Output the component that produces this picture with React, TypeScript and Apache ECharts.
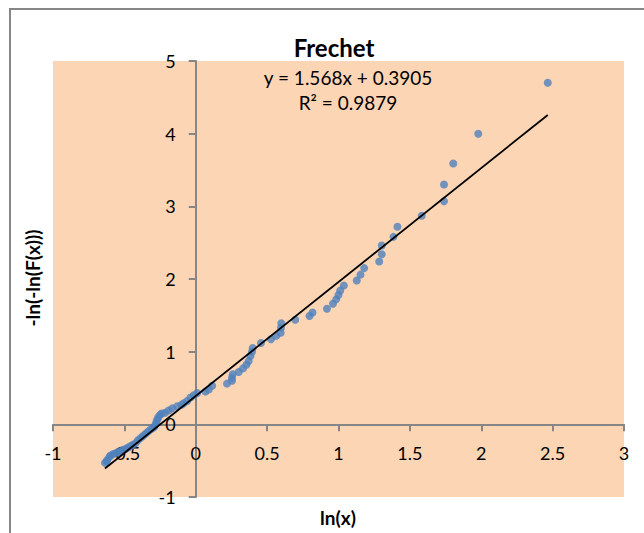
import React, { useEffect, useRef } from "react";
import * as echarts from "echarts";

const TITLE = "Frechet";
const X_TITLE = "ln(x)";
const Y_TITLE = "-ln(-ln(F(x)))";
const EQUATION = "y = 1.568x + 0.3905";
const R2_TEXT = "R\u00b2 = 0.9879";
const TREND_SLOPE = 1.568;
const TREND_INTERCEPT = 0.3905;

const X_VALUES = [
  -0.636, -0.625, -0.62, -0.605, -0.597, -0.58, -0.562, -0.545, -0.527, -0.51, -0.492,
  -0.475, -0.457, -0.44, -0.422, -0.405, -0.387, -0.37, -0.352, -0.335, -0.317, -0.3,
  -0.29, -0.28, -0.275, -0.268, -0.262, -0.25, -0.24, -0.215, -0.19, -0.165, -0.13,
  -0.1, -0.084, -0.06, -0.037, -0.014, 0.01, 0.068, 0.091, 0.115, 0.219, 0.254, 0.254,
  0.259, 0.301, 0.331, 0.355, 0.371, 0.383, 0.394, 0.399, 0.457, 0.527, 0.564, 0.595,
  0.597, 0.599, 0.697, 0.797, 0.818, 0.919, 0.961, 0.984, 1.0, 1.012, 1.037, 1.128,
  1.154, 1.18, 1.285, 1.303, 1.303, 1.385, 1.413, 1.583, 1.739, 1.739, 1.804, 1.979,
  2.466,
];
const Y_VALUES = [
  -0.53, -0.51, -0.49, -0.45, -0.43, -0.41, -0.4, -0.38, -0.37, -0.35, -0.34,
  -0.32, -0.3, -0.28, -0.26, -0.22, -0.19, -0.16, -0.13, -0.1, -0.07, -0.05,
  -0.03, 0.0, 0.04, 0.07, 0.1, 0.13, 0.15, 0.16, 0.19, 0.22, 0.25,
  0.27, 0.29, 0.32, 0.37, 0.4, 0.43, 0.45, 0.48, 0.53, 0.56, 0.6, 0.64,
  0.69, 0.72, 0.77, 0.82, 0.87, 0.94, 1.0, 1.05, 1.12, 1.17, 1.22, 1.26,
  1.33, 1.39, 1.44, 1.49, 1.54, 1.59, 1.66, 1.72, 1.78, 1.84, 1.91, 1.98,
  2.06, 2.15, 2.24, 2.34, 2.46, 2.58, 2.72, 2.87, 3.07, 3.3, 3.59, 4.0,
  4.7,
];

const X_MIN = -1;
const X_MAX = 3;
const X_STEP = 0.5;
const Y_MIN = -1;
const Y_MAX = 5;
const Y_STEP = 1;

const FONT = "Lato, 'DejaVu Sans', sans-serif";
const AXIS_COLOR = "#868686";

const W = 644;
const H = 533;
const G_LEFT = 53;
const G_RIGHT = 20;
const G_TOP = 61;
const G_BOTTOM = 36;

export default function App() {
  const ref = useRef<HTMLDivElement>(null);

  useEffect(() => {
    if (!ref.current) return;
    const chart = echarts.init(ref.current, undefined, { renderer: "svg" });
    const points = X_VALUES.map((x, i) => [x, Y_VALUES[i]]);
    const xLo = Math.min(...X_VALUES);
    const xHi = Math.max(...X_VALUES);
    const trend = [
      [xLo, TREND_SLOPE * xLo + TREND_INTERCEPT],
      [xHi, TREND_SLOPE * xHi + TREND_INTERCEPT],
    ];

    const gw = W - G_LEFT - G_RIGHT;
    const gh = H - G_TOP - G_BOTTOM;
    // shift axes so they cross at zero (labels move with them)
    const yAxisOffset = -((0 - X_MIN) / (X_MAX - X_MIN)) * gw;
    const xAxisOffset = -((0 - Y_MIN) / (Y_MAX - Y_MIN)) * gh;

    chart.setOption({
      animation: false,
      backgroundColor: "#ffffff",
      textStyle: { fontFamily: FONT },
      grid: {
        left: G_LEFT,
        right: G_RIGHT,
        top: G_TOP,
        bottom: G_BOTTOM,
        show: true,
        backgroundColor: "#FCD5B5",
        borderWidth: 0,
        containLabel: false,
      },
      xAxis: {
        type: "value",
        position: "bottom",
        offset: xAxisOffset,
        min: X_MIN,
        max: X_MAX,
        interval: X_STEP,
        axisLine: { show: true, onZero: false, lineStyle: { color: AXIS_COLOR, width: 2 } },
        axisTick: { show: true, length: 7, lineStyle: { color: AXIS_COLOR, width: 2 } },
        axisLabel: { color: "#000", fontSize: 18, fontFamily: FONT, margin: 20 },
        splitLine: { show: false },
      },
      yAxis: {
        type: "value",
        position: "left",
        offset: yAxisOffset,
        min: Y_MIN,
        max: Y_MAX,
        interval: Y_STEP,
        axisLine: { show: true, onZero: false, lineStyle: { color: AXIS_COLOR, width: 2 } },
        axisTick: { show: true, length: 7, lineStyle: { color: AXIS_COLOR, width: 2 } },
        axisLabel: { color: "#000", fontSize: 18, fontFamily: FONT, margin: 20 },
        splitLine: { show: false },
      },
      series: [
        {
          type: "scatter",
          data: points,
          symbol: "circle",
          symbolSize: 8,
          itemStyle: { color: "#4F81BD" },
          z: 3,
        },
        {
          type: "line",
          data: trend,
          symbol: "none",
          lineStyle: { color: "#000000", width: 1.8 },
          z: 4,
        },
      ],
      graphic: [
        {
          type: "rect",
          shape: { x: 10, y: 9, width: 700, height: 600 },
          style: { fill: "none", stroke: AXIS_COLOR, lineWidth: 2 },
          silent: true,
          z: 100,
        },
        {
          type: "text",
          x: 334,
          y: 47,
          style: {
            text: TITLE,
            font: `bold 24px ${FONT}`,
            fill: "#000",
            align: "center",
            verticalAlign: "middle",
            textAlign: "center",
            textVerticalAlign: "middle",
          },
        },
        {
          type: "text",
          x: 348,
          y: 77,
          style: {
            text: EQUATION,
            font: `19px ${FONT}`,
            fill: "#000",
            align: "center",
            verticalAlign: "middle",
            textAlign: "center",
            textVerticalAlign: "middle",
          },
          z: 10,
        },
        {
          type: "text",
          x: 348,
          y: 102,
          style: {
            text: R2_TEXT,
            font: `19px ${FONT}`,
            fill: "#000",
            align: "center",
            verticalAlign: "middle",
            textAlign: "center",
            textVerticalAlign: "middle",
          },
          z: 10,
        },
        {
          type: "text",
          x: 338,
          y: 517,
          style: {
            text: X_TITLE,
            font: `bold 19px ${FONT}`,
            fill: "#000",
            align: "center",
            verticalAlign: "middle",
            textAlign: "center",
            textVerticalAlign: "middle",
          },
        },
        {
          type: "text",
          x: 32,
          y: 278,
          rotation: Math.PI / 2,
          style: {
            text: Y_TITLE,
            font: `bold 19px ${FONT}`,
            fill: "#000",
            align: "center",
            verticalAlign: "middle",
            textAlign: "center",
            textVerticalAlign: "middle",
          },
        },
      ],
    });

    return () => chart.dispose();
  }, []);

  return (
    <div
      ref={ref}
      style={{ position: "fixed", left: 0, top: 0, width: W, height: H }}
    />
  );
}
